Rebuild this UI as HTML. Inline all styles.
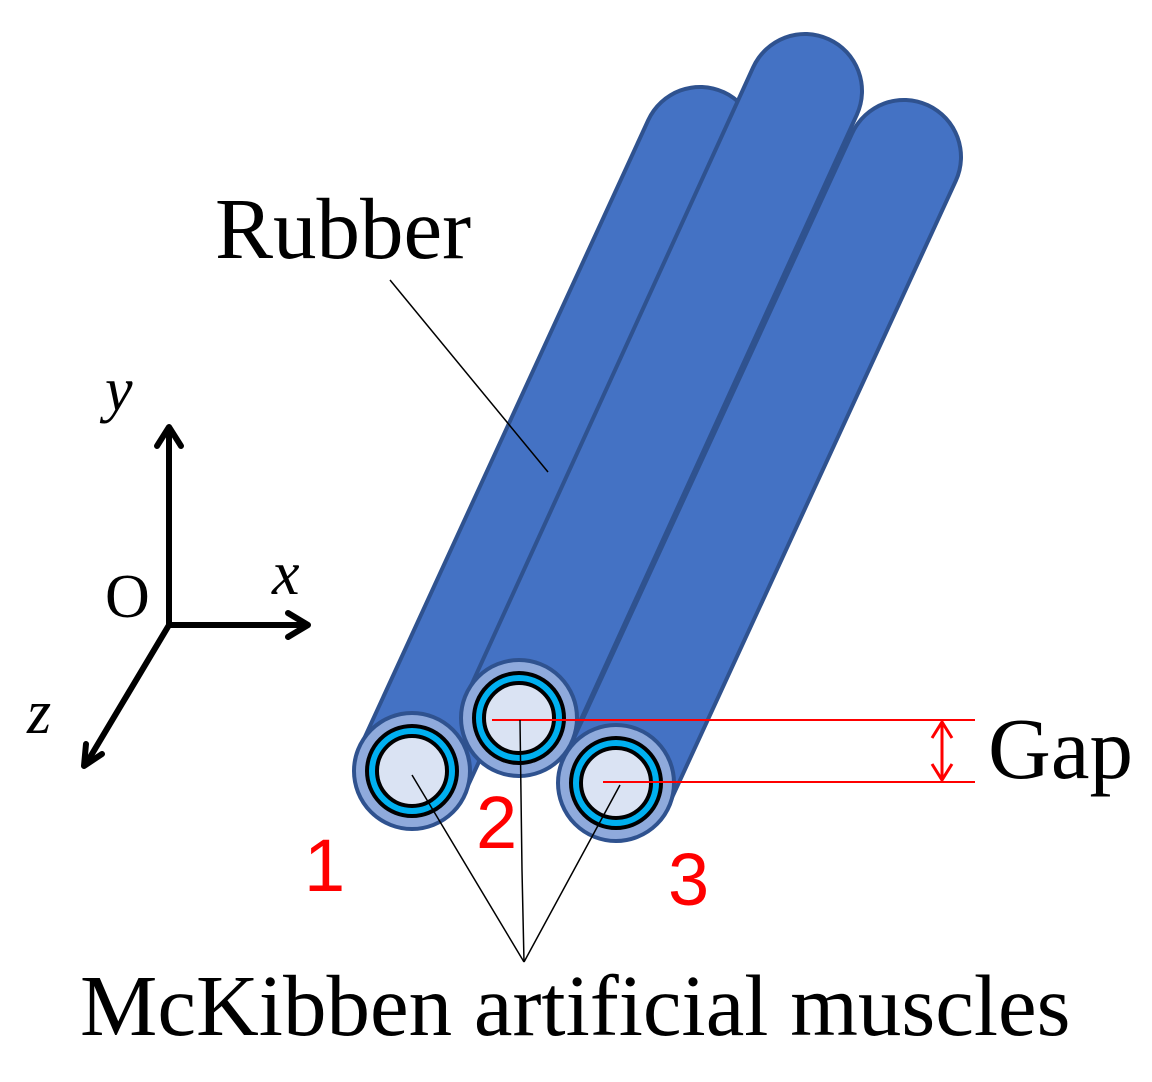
<!DOCTYPE html>
<html><head><meta charset="utf-8"><style>html,body{margin:0;padding:0;background:#fff}svg{display:block}</style></head><body>
<svg width="1152" height="1082" viewBox="0 0 1152 1082" xmlns="http://www.w3.org/2000/svg">
<g stroke-linecap="round">
<line x1="700" y1="144" x2="412" y2="771" stroke="#2F528F" stroke-width="118"/>
<line x1="700" y1="144" x2="412" y2="771" stroke="#4472C4" stroke-width="110"/>
<line x1="805" y1="91" x2="519" y2="718" stroke="#2F528F" stroke-width="118"/>
<line x1="805" y1="91" x2="519" y2="718" stroke="#4472C4" stroke-width="110"/>
<line x1="904" y1="157" x2="616" y2="783" stroke="#2F528F" stroke-width="118"/>
<line x1="904" y1="157" x2="616" y2="783" stroke="#4472C4" stroke-width="110"/>
</g>
<g stroke-width="4">
<circle cx="412" cy="771" r="58" fill="#8FAADC" stroke="#2F528F"/>
<circle cx="412" cy="771" r="45" fill="#00B0F0" stroke="#000"/>
<circle cx="412" cy="771" r="35" fill="#DAE3F3" stroke="#000"/>
<circle cx="519" cy="718" r="58" fill="#8FAADC" stroke="#2F528F"/>
<circle cx="519" cy="718" r="45" fill="#00B0F0" stroke="#000"/>
<circle cx="519" cy="718" r="35" fill="#DAE3F3" stroke="#000"/>
<circle cx="616" cy="783" r="58" fill="#8FAADC" stroke="#2F528F"/>
<circle cx="616" cy="783" r="45" fill="#00B0F0" stroke="#000"/>
<circle cx="616" cy="783" r="35" fill="#DAE3F3" stroke="#000"/>
</g>
<g stroke="#f00" stroke-width="2" fill="none">
<line x1="492" y1="720" x2="975" y2="720"/>
<line x1="603" y1="782" x2="975" y2="782"/>
<line x1="942" y1="722" x2="942" y2="780" stroke-width="3"/>
<polyline points="932,738 942,722 952,738" stroke-width="3"/>
<polyline points="932,764 942,780 952,764" stroke-width="3"/>
</g>
<g stroke="#000" stroke-width="1.5" fill="none">
<line x1="390" y1="280" x2="548" y2="472"/>
<line x1="412" y1="775" x2="524" y2="962"/>
<polyline points="520,720 522,870 524,962"/>
<line x1="620" y1="785" x2="524" y2="962"/>
</g>
<g stroke="#000" stroke-width="6" fill="none" stroke-linecap="round" stroke-linejoin="round">
<polyline points="169,428 169,625 307,625"/>
<line x1="169" y1="625" x2="86" y2="764"/>
<polyline points="157,446 169,427 181,446"/>
<polyline points="288,613 308,625 288,637"/>
<polyline points="86,744 84,766 102,754"/>
</g>
<g font-family="Liberation Serif, serif" font-size="87" fill="#000">
<text x="215" y="258">Rubber</text>
<text x="988" y="778">Gap</text>
<text x="80" y="1035">McKibben artificial muscles</text>
<text x="105" y="617" font-size="62">O</text>
<text x="105" y="410" font-size="62" font-style="italic">y</text>
<text x="272" y="594" font-size="62" font-style="italic">x</text>
<text x="27" y="733" font-size="62" font-style="italic">z</text>
</g>
<g font-family="Liberation Sans, sans-serif" font-size="74" fill="#f00">
<text x="304" y="891">1</text>
<text x="476" y="848">2</text>
<text x="668" y="905">3</text>
</g>
</svg>
</body></html>
